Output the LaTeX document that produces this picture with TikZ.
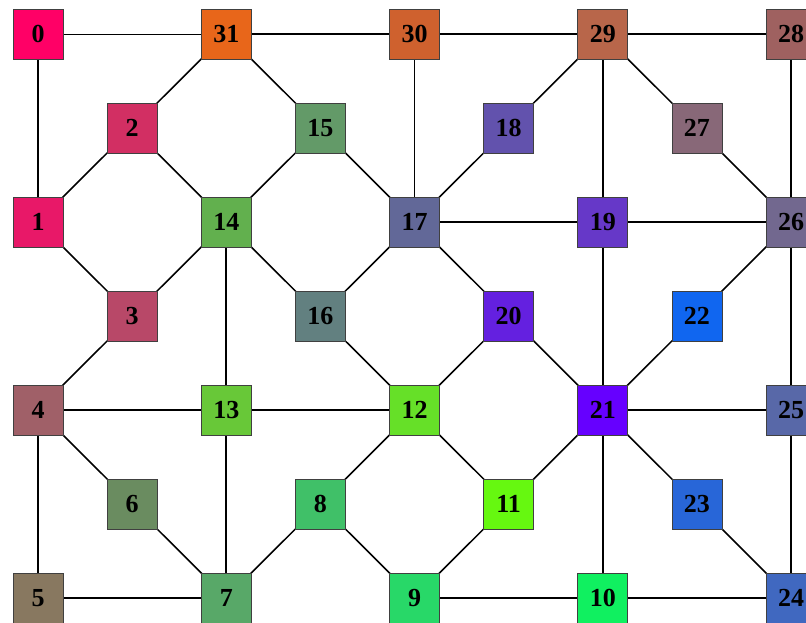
\documentclass[tikz,border=0pt]{standalone}
\usepackage{fontspec}
\setmainfont{Liberation Serif}
\definecolor{c0}{HTML}{FF0066}
\definecolor{c31}{HTML}{E8661A}
\definecolor{c30}{HTML}{CF612E}
\definecolor{c29}{HTML}{B8664A}
\definecolor{c28}{HTML}{9F6160}
\definecolor{c2}{HTML}{D22F63}
\definecolor{c15}{HTML}{639A68}
\definecolor{c18}{HTML}{6252AD}
\definecolor{c27}{HTML}{886878}
\definecolor{c1}{HTML}{E81868}
\definecolor{c14}{HTML}{62B04E}
\definecolor{c17}{HTML}{626898}
\definecolor{c19}{HTML}{6638C8}
\definecolor{c26}{HTML}{72688F}
\definecolor{c3}{HTML}{B84868}
\definecolor{c16}{HTML}{628080}
\definecolor{c20}{HTML}{6420E0}
\definecolor{c22}{HTML}{1066F0}
\definecolor{c4}{HTML}{A06068}
\definecolor{c13}{HTML}{68C838}
\definecolor{c12}{HTML}{66E028}
\definecolor{c21}{HTML}{6600FF}
\definecolor{c25}{HTML}{5868A8}
\definecolor{c6}{HTML}{6A8C60}
\definecolor{c8}{HTML}{40C068}
\definecolor{c11}{HTML}{66F810}
\definecolor{c23}{HTML}{2866D8}
\definecolor{c5}{HTML}{887860}
\definecolor{c7}{HTML}{58A868}
\definecolor{c9}{HTML}{28D868}
\definecolor{c10}{HTML}{10F060}
\definecolor{c24}{HTML}{4068C0}
\tikzset{
  vbox/.style={draw=black!75, line width=0.5pt, minimum size=37.5pt, inner sep=0pt,
    font=\fontsize{19.5}{21}\selectfont\bfseries},
  link/.style={line width=1.15pt, black},
  thinlink/.style={line width=0.65pt, black}
}
\begin{document}
\begin{tikzpicture}[x=0.75pt,y=-0.75pt]
\useasboundingbox (0,0) rectangle (806,623);
\foreach \n/\c/\r in {0/0/0,31/2/0,30/4/0,29/6/0,28/8/0,
  2/1/1,15/3/1,18/5/1,27/7/1,
  1/0/2,14/2/2,17/4/2,19/6/2,26/8/2,
  3/1/3,16/3/3,20/5/3,22/7/3,
  4/0/4,13/2/4,12/4/4,21/6/4,25/8/4,
  6/1/5,8/3/5,11/5/5,23/7/5,
  5/0/6,7/2/6,9/4/6,10/6/6,24/8/6}
  {\coordinate (p\n) at ({38+94.125*\c},{34+94*\r});}
\foreach \a/\b in {31/30,30/29,29/28,0/1,31/2,31/15,30/17,29/18,29/19,29/27,28/26,
  2/1,2/14,15/14,15/17,18/17,27/26,1/3,14/3,14/16,14/13,17/19,17/16,17/20,
  19/26,19/21,26/22,26/25,3/4,16/12,20/12,20/21,22/21,4/13,4/5,4/6,13/12,13/7,
  12/8,12/11,21/25,21/11,21/10,21/23,25/24,6/7,8/7,8/9,11/9,23/24,5/7,9/10,10/24}
  {\draw[link] (p\a) -- (p\b);}
\draw[thinlink] (p0) -- (p31);
\foreach \n in {0,31,30,29,28,2,15,18,27,1,14,17,19,26,3,16,20,22,4,13,12,21,25,6,8,11,23,5,7,9,10,24}
  {\node[vbox, fill=c\n] (n\n) at (p\n) {\n};}
\end{tikzpicture}
\end{document}
